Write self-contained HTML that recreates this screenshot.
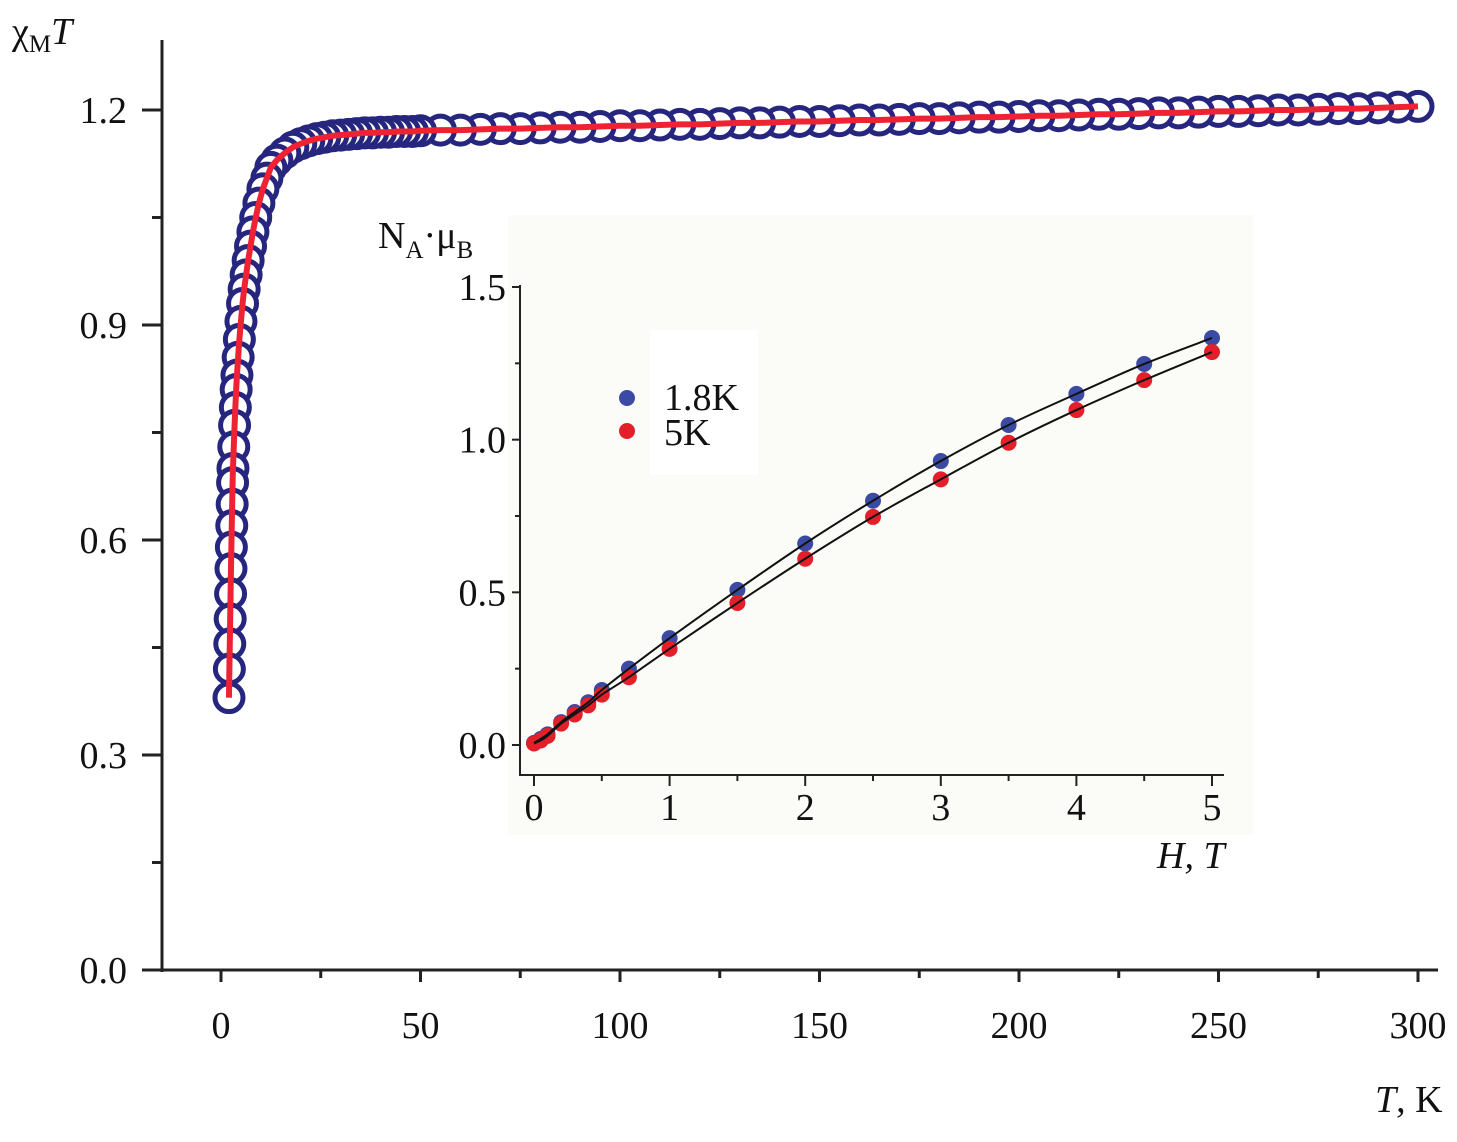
<!DOCTYPE html>
<html><head><meta charset="utf-8"><style>
html,body{margin:0;padding:0;background:#fff}
svg{display:block}
svg text{font-family:"Liberation Serif","Times New Roman",serif !important;fill:#111}
</style></head><body>
<svg id="chart" width="1457" height="1142" viewBox="0 0 1457 1142" xmlns="http://www.w3.org/2000/svg" font-family="Liberation Serif, serif">
<g id="main"></g>
<g id="inset"></g>
</svg>
<script>
// ---- main chart data ----
const mainT=[2,2.1,2.2,2.3,2.4,2.5,2.6,2.7,2.8,2.9,3.0,3.2,3.4,3.6,3.8,4.0,4.3,4.6,5.0,5.4,5.8,6.3,6.8,7.4,8,8.7,9.5,10.5,11.5,12.5,14,16,18,20,22,24,26,28,30,32,34,36,38,40,42,44,46,48,50,
55,60,65,70,75,80,85,90,95,100,105,110,115,120,125,130,135,140,145,150,155,160,165,170,175,180,185,190,195,200,205,210,215,220,225,230,235,240,245,250,255,260,265,270,275,280,285,290,295,300];
const mainChiT=[0.38,0.42,0.455,0.49,0.525,0.56,0.59,0.62,0.65,0.68,0.70,0.73,0.76,0.785,0.81,0.83,0.855,0.88,0.905,0.93,0.95,0.97,0.99,1.01,1.03,1.05,1.07,1.09,1.105,1.12,1.13,1.14,1.148,1.153,1.157,1.16,1.162,1.164,1.165,1.166,1.167,1.168,1.168,1.169,1.169,1.17,1.17,1.17,1.171,
1.172,1.172,1.173,1.174,1.174,1.175,1.176,1.176,1.177,1.178,1.178,1.179,1.180,1.180,1.181,1.182,1.182,1.183,1.184,1.184,1.185,1.186,1.186,1.187,1.188,1.188,1.189,1.190,1.190,1.191,1.192,1.192,1.193,1.194,1.194,1.195,1.196,1.196,1.197,1.198,1.198,1.199,1.200,1.200,1.201,1.202,1.202,1.203,1.204,1.205];
const mainXTicks=[0,50,100,150,200,250,300];
const mainYTicks=["0.0","0.3","0.6","0.9","1.2"];
// ---- inset data ----
const insetH=[0,0.05,0.1,0.2,0.3,0.4,0.5,0.7,1,1.5,2,2.5,3,3.5,4,4.5,5];
const insetM18=[0.007,0.02,0.035,0.075,0.108,0.14,0.18,0.25,0.35,0.508,0.66,0.80,0.93,1.048,1.15,1.248,1.333];
const insetM5=[0.005,0.015,0.03,0.07,0.1,0.13,0.165,0.222,0.315,0.465,0.61,0.747,0.87,0.99,1.097,1.195,1.287];
const insetXTicks=["0","1","2","3","4","5"];
const insetYTicks=["0.0","0.5","1.0","1.5"];

const NS="http://www.w3.org/2000/svg";
const FF='font-family:"Liberation Serif","Times New Roman",serif';
function mk(parent,tag,attrs,txt){const e=document.createElementNS(NS,tag);for(const k in attrs)e.setAttribute(k,attrs[k]);if(tag==='text')e.setAttribute('style',FF);if(txt!==undefined)e.textContent=txt;parent.appendChild(e);return e;}
const mx=t=>221+t*(1197/300), my=v=>970-v*(215/0.3);
const ix=h=>534+h*(678/5), iy=v=>745-v*(458/1.5);

const M=document.getElementById('main');
let a=mk(M,'line',{x1:162,y1:40,x2:162,y2:972,stroke:'#222','stroke-width':3});


a=mk(M,'line',{x1:142,y1:970,x2:1438,y2:970,stroke:'#222','stroke-width':3});


for(let i=0;i<=12;i++){const t=i*25;const l=mk(M,'line',{x1:mx(t),y1:970,x2:mx(t),y2:i%2?978:982,stroke:'#222','stroke-width':3});

}
mainXTicks.forEach(t=>{const e=mk(M,'text',{x:mx(t),y:1038,'font-size':38,'text-anchor':'middle'},String(t));

});
for(let i=0;i<=8;i++){const v=i*0.15;const l=mk(M,'line',{x1:i%2?152:142,y1:my(v),x2:162,y2:my(v),stroke:'#222','stroke-width':3});

}
mainYTicks.forEach(s=>{const e=mk(M,'text',{x:127,y:my(parseFloat(s))+13,'font-size':38,'text-anchor':'end'},s);

});
let t1=mk(M,'text',{x:12,y:44,'font-size':38});


t1.innerHTML='χ<tspan font-size="25" dy="8">M</tspan><tspan dy="-8" font-style="italic">T</tspan>';
let t2=mk(M,'text',{x:1375,y:1112,'font-size':38});


t2.innerHTML='<tspan font-style="italic">T</tspan>, K';
for(let i=mainT.length-1;i>=0;i--){const c=mk(M,'circle',{cx:mx(mainT[i]),cy:my(mainChiT[i]),r:14,fill:'#fff',stroke:'#26267e','stroke-width':5});

}
const fit=mk(M,'polyline',{points:mainT.map((t,i)=>mx(t)+','+my(mainChiT[i])).join(' '),fill:'none',stroke:'#ee2233','stroke-width':6,'stroke-linejoin':'round'});



// ---- inset ----
const I=document.getElementById('inset');
let bg=mk(I,'rect',{x:508,y:215,width:745,height:620,fill:'#fbfbf7'});


let lb=mk(I,'rect',{x:650,y:330,width:108,height:145,fill:'#fff'});


a=mk(I,'line',{x1:520,y1:285,x2:520,y2:776,stroke:'#222','stroke-width':2});


a=mk(I,'line',{x1:519,y1:775,x2:1224,y2:775,stroke:'#222','stroke-width':2});


for(let i=0;i<=10;i++){const l=mk(I,'line',{x1:ix(i*0.5),y1:775,x2:ix(i*0.5),y2:i%2?781:786,stroke:'#222','stroke-width':2});

}
insetXTicks.forEach(s=>{const e=mk(I,'text',{x:ix(+s),y:820,'font-size':38,'text-anchor':'middle'},s);

});
for(let i=0;i<=6;i++){const l=mk(I,'line',{x1:520,y1:iy(i*0.25),x2:i%2?515:512,y2:iy(i*0.25),stroke:'#222','stroke-width':2});

}
insetYTicks.forEach(s=>{const e=mk(I,'text',{x:506,y:iy(+s)+13,'font-size':38,'text-anchor':'end'},s);

});
let t3=mk(I,'text',{x:378,y:248,'font-size':38});


t3.innerHTML='N<tspan font-size="25" dy="10">A</tspan><tspan dy="-10">·μ</tspan><tspan font-size="25" dy="10">B</tspan>';
let t4=mk(I,'text',{x:1157,y:868,'font-size':38,'font-style':'italic'},'H, T');


function smooth(xs,ys){let d='M'+xs[0]+','+ys[0];for(let i=0;i<xs.length-1;i++){const p0=Math.max(i-1,0),p3=Math.min(i+2,xs.length-1);
const c1x=xs[i]+(xs[i+1]-xs[p0])/6,c1y=ys[i]+(ys[i+1]-ys[p0])/6,c2x=xs[i+1]-(xs[p3]-xs[i])/6,c2y=ys[i+1]-(ys[p3]-ys[i])/6;
d+=' C'+c1x+','+c1y+' '+c2x+','+c2y+' '+xs[i+1]+','+ys[i+1];}return d;}
[[insetM18,'#3b4aa2','1.8K'],[insetM5,'#e3202a','5K']].forEach(([arr,col,name])=>{
  arr.forEach((v,i)=>{const c=mk(I,'circle',{cx:ix(insetH[i]),cy:iy(v),r:8,fill:col});
  
  });
});
[insetM18,insetM5].forEach((arr,k)=>{const p=mk(I,'path',{d:smooth(insetH.map(ix),arr.map(iy)),fill:'none',stroke:'#111','stroke-width':2});

});
let d1=mk(I,'circle',{cx:627,cy:398,r:8,fill:'#3b4aa2'});


let l1=mk(I,'text',{x:664,y:410,'font-size':38},'1.8K');


let d2=mk(I,'circle',{cx:627,cy:431,r:8,fill:'#e3202a'});


let l2=mk(I,'text',{x:664,y:445,'font-size':38},'5K');


</script>
</body></html>
